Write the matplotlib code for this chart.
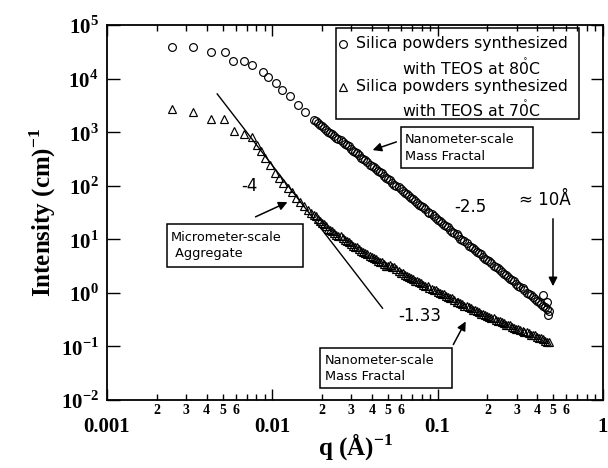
import matplotlib
matplotlib.use('Agg')
import matplotlib.pyplot as plt
from matplotlib.patches import Rectangle
from matplotlib.ticker import FixedLocator, FixedFormatter, NullFormatter

plt.rcParams['mathtext.fontset'] = 'custom'
plt.rcParams['mathtext.rm'] = 'Liberation Serif:bold'
plt.rcParams['mathtext.bf'] = 'Liberation Serif:bold'
plt.rcParams['mathtext.sf'] = 'DejaVu Sans'

# SAXS data
q_80_low = [0.00247, 0.00331, 0.00425, 0.00517, 0.00578, 0.00674, 0.00754, 0.00879,
            0.00942, 0.0105, 0.0115, 0.0128, 0.0143, 0.0158]
I_80_low = [3.88e4, 3.88e4, 3.13e4, 3.13e4, 2.13e4, 2.13e4, 1.79e4, 1.33e4,
            1.07e4, 8260, 6120, 4730, 3210, 2380]

q_70_low = [0.00247, 0.00331, 0.00425, 0.00510, 0.00586, 0.00674, 0.00754, 0.00807,
            0.00855, 0.00903, 0.0097, 0.0104, 0.0110, 0.0116, 0.0124, 0.0132,
            0.0140, 0.0147, 0.0155, 0.0164, 0.0171]
I_70_low = [2700, 2380, 1760, 1760, 1050, 920, 810, 575,
            440, 330, 240, 173, 140, 112, 92, 76,
            60, 50, 42, 35, 31]

q_dense = [0.0178, 0.0188, 0.0200, 0.0211, 0.0224, 0.0237, 0.0251, 0.0266, 0.0282, 0.0299,
           0.0316, 0.0335, 0.0355, 0.0376, 0.0398, 0.0422, 0.0447, 0.0473, 0.0501, 0.0531,
           0.0562, 0.0596, 0.0631, 0.0668, 0.0708, 0.0750, 0.0794, 0.0841, 0.0891, 0.0944,
           0.100, 0.106, 0.112, 0.119, 0.126, 0.133, 0.141, 0.150, 0.158, 0.168,
           0.178, 0.188, 0.200, 0.211, 0.224, 0.237, 0.251, 0.266, 0.282, 0.298,
           0.316, 0.335, 0.355, 0.376, 0.398, 0.422, 0.447, 0.473]
I_80_dense = [1700, 1480, 1290, 1100, 955, 850, 760, 650, 570, 490,
              425, 370, 318, 272, 238, 207, 178, 155, 133, 114,
              99.5, 86, 74.5, 64.8, 55.7, 48.0, 41.7, 36.3, 31.2, 27.0,
              23.3, 20.3, 17.5, 15.0, 13.1, 11.4, 9.8, 8.4, 7.3, 6.3,
              5.5, 4.7, 4.1, 3.55, 3.06, 2.64, 2.29, 1.99, 1.71, 1.48,
              1.28, 1.11, 0.96, 0.83, 0.72, 0.62, 0.54, 0.465]
I_70_dense = [28.4, 24.2, 20.5, 17.4, 14.8, 13.1, 11.7, 10.4, 9.25, 8.22,
              7.31, 6.49, 5.82, 5.24, 4.70, 4.23, 3.80, 3.45, 3.14, 3.00,
              2.82, 2.37, 2.16, 1.97, 1.79, 1.64, 1.50, 1.37, 1.25, 1.15,
              1.05, 0.957, 0.877, 0.802, 0.733, 0.670, 0.613, 0.561, 0.513, 0.469,
              0.430, 0.397, 0.368, 0.340, 0.315, 0.292, 0.270, 0.250, 0.232, 0.216,
              0.201, 0.187, 0.175, 0.163, 0.151, 0.141, 0.129, 0.120]

# second, interleaved set of points in the dense part
q_dense_b = [0.0183, 0.0194, 0.0205, 0.0218, 0.0231, 0.0244, 0.0259, 0.0274, 0.0290, 0.0308,
             0.0326, 0.0345, 0.0366, 0.0387, 0.0410, 0.0435, 0.0460, 0.0488, 0.0517, 0.0547,
             0.0580, 0.0614, 0.0650, 0.0689, 0.0730, 0.0773, 0.0819, 0.0868, 0.0919, 0.0972,
             0.103, 0.109, 0.116, 0.122, 0.130, 0.137, 0.145, 0.154, 0.163, 0.173,
             0.183, 0.194, 0.205, 0.218, 0.231, 0.244, 0.259, 0.274, 0.290, 0.308,
             0.326, 0.345, 0.366, 0.387, 0.410, 0.435, 0.460]
I_80_dense_b = [1620, 1350, 1220, 1000, 920, 785, 720, 595, 540, 446,
                405, 335, 300, 248, 227, 187, 170, 140, 126, 104,
                94.5, 78, 71, 58.8, 52.8, 43.7, 39.8, 32.9, 29.7, 24.5,
                22.2, 18.4, 16.6, 13.7, 12.5, 10.3, 9.3, 7.65, 6.95, 5.75,
                5.2, 4.3, 3.9, 3.22, 2.91, 2.40, 2.18, 1.80, 1.63, 1.35,
                1.22, 1.01, 0.91, 0.76, 0.685, 0.565, 0.51]
I_70_dense_b = [26.8, 21.8, 19.3, 15.7, 14.2, 12.1, 11.3, 9.6, 8.9, 7.6,
                7.05, 6.0, 5.65, 4.85, 4.56, 3.92, 3.70, 3.22, 3.25, 3.05,
                2.55, 2.31, 2.02, 1.92, 1.68, 1.60, 1.40, 1.34, 1.17, 1.12,
                0.98, 0.935, 0.82, 0.785, 0.685, 0.655, 0.573, 0.548, 0.48, 0.459,
                0.405, 0.39, 0.347, 0.334, 0.297, 0.287, 0.255, 0.246, 0.220, 0.212,
                0.190, 0.185, 0.166, 0.160, 0.143, 0.137, 0.122]

q_80_end = [0.434, 0.459, 0.466]
I_80_end = [0.91, 0.68, 0.39]

# slope -4 guide line
line_q = [0.00464, 0.0464]
line_I = [5170, 0.517]

x_major = [0.001, 0.01, 0.1, 1]
x_major_labels = ['0.001', '0.01', '0.1', '1']
y_major = [1e-2, 1e-1, 1, 10, 100, 1e3, 1e4, 1e5]
y_labels = [r'$10^{-2}$', r'$10^{-1}$', r'$10^{0}$', r'$10^{1}$', r'$10^{2}$',
            r'$10^{3}$', r'$10^{4}$', r'$10^{5}$']

fig = plt.figure(figsize=(6.08, 4.68), dpi=100)
ax = fig.add_axes([107 / 608, 68 / 468, 496 / 608, 375 / 468])
ax.set_xscale('log')
ax.set_yscale('log')
ax.set_xlim(0.001, 1)
ax.set_ylim(1e-2, 1e5)

circ = dict(marker='o', ms=5.6, mfc='none', mec='black', mew=0.85, ls='none')
tri = dict(marker='^', ms=5.6, mfc='none', mec='black', mew=0.85, ls='none')
ax.plot(q_80_low, I_80_low, **circ)
ax.plot(q_dense, I_80_dense, **circ)
ax.plot(q_dense_b, I_80_dense_b, **circ)
ax.plot(q_80_end, I_80_end, **circ)
ax.plot(q_70_low, I_70_low, **tri)
ax.plot(q_dense, I_70_dense, **tri)
ax.plot(q_dense_b, I_70_dense_b, **tri)
ax.plot(line_q, line_I, color='black', lw=1.0)

# ticks
minor = [m * 10.0 ** e for e in (-3, -2, -1) for m in range(2, 10)]
minor_lab = [str(m) if m <= 6 else '' for e in (-3, -2, -1) for m in range(2, 10)]
ax.xaxis.set_major_locator(FixedLocator(x_major))
ax.xaxis.set_major_formatter(FixedFormatter(x_major_labels))
ax.xaxis.set_minor_locator(FixedLocator(minor))
ax.xaxis.set_minor_formatter(FixedFormatter(minor_lab))
ax.yaxis.set_major_locator(FixedLocator(y_major))
ax.yaxis.set_major_formatter(FixedFormatter(y_labels))
ax.yaxis.set_minor_locator(FixedLocator([]))
ax.yaxis.set_minor_formatter(NullFormatter())

ax.tick_params(which='both', direction='in', top=True, right=True, width=1.0)
ax.tick_params(axis='x', which='major', length=8, pad=12)
ax.tick_params(axis='x', which='minor', length=4, pad=3)
ax.tick_params(axis='y', which='major', length=9, pad=6)
for lab in ax.get_xticklabels():
    lab.set_fontfamily('Liberation Serif')
    lab.set_fontweight('bold')
    lab.set_fontsize(15)
for lab in ax.get_xticklabels(minor=True):
    lab.set_fontfamily('Liberation Serif')
    lab.set_fontweight('bold')
    lab.set_fontsize(10)
for lab in ax.get_yticklabels():
    lab.set_fontsize(15)
for s in ax.spines.values():
    s.set_linewidth(1.3)

ax.set_xlabel(r'q (Å)$^{-1}$', fontfamily='Liberation Serif', fontweight='bold',
              fontsize=18, labelpad=-4)
ax.set_ylabel(r'Intensity (cm)$^{-1}$', fontfamily='Liberation Serif',
              fontweight='bold', fontsize=18, labelpad=2)


def px(x, y):
    return ((x - 107) / 496, (400 - y) / 375)


tr = ax.transAxes
sans = 'DejaVu Sans'

# legend box
lx, ly = px(336, 119)
ax.add_patch(Rectangle((lx, ly), 243 / 496, 91 / 375, transform=tr, fill=False,
                       lw=1.1, ec='black'))
ax.plot(*px(343, 44), transform=tr, **circ)
ax.plot(*px(343, 87), transform=tr, **tri)
ax.text(*px(356, 44), 'Silica powders synthesized', transform=tr, fontsize=11.3,
        family=sans, va='center', ha='left')
ax.text(*px(471, 68), r'with TEOS at 8$\mathsf{\mathring{0}}$C', transform=tr,
        fontsize=11.3, family=sans, va='center', ha='center')
ax.text(*px(356, 87), 'Silica powders synthesized', transform=tr, fontsize=11.3,
        family=sans, va='center', ha='left')
ax.text(*px(471, 110), r'with TEOS at 7$\mathsf{\mathring{0}}$C', transform=tr,
        fontsize=11.3, family=sans, va='center', ha='center')


# annotation boxes
def box(x0, y0, x1, y1, lines, tx, ty, dy=16):
    bx, by = px(x0, y1)
    ax.add_patch(Rectangle((bx, by), (x1 - x0) / 496, (y1 - y0) / 375,
                           transform=tr, fill=False, lw=1.1, ec='black'))
    for i, t in enumerate(lines):
        ax.text(*px(tx, ty + i * dy), t, transform=tr, fontsize=9.3, family=sans,
                va='center', ha='left')


box(401, 127, 533, 168, ['Nanometer-scale', 'Mass Fractal'], 405, 140)
box(320, 348, 452, 388, ['Nanometer-scale', 'Mass Fractal'], 325, 360)
box(167, 224, 303, 267, ['Micrometer-scale', ' Aggregate'], 171, 238)

arr = dict(arrowstyle='-|>', color='black', lw=1.1, mutation_scale=13)
ax.annotate('', xy=px(370, 151), xytext=px(399, 141), xycoords=tr, textcoords=tr,
            arrowprops=arr)
ax.annotate('', xy=px(467, 319), xytext=px(452, 347), xycoords=tr, textcoords=tr,
            arrowprops=arr)
ax.annotate('', xy=px(290, 201), xytext=px(253, 218), xycoords=tr, textcoords=tr,
            arrowprops=arr)
ax.annotate('', xy=px(553, 289), xytext=px(553, 216), xycoords=tr, textcoords=tr,
            arrowprops=arr)

ax.text(*px(249, 186), '-4', transform=tr, fontsize=12, family=sans,
        ha='center', va='center')
ax.text(*px(470, 207), '-2.5', transform=tr, fontsize=12, family=sans,
        ha='center', va='center')
ax.text(*px(420, 316), '-1.33', transform=tr, fontsize=12, family=sans,
        ha='center', va='center')
ax.text(*px(545, 200), '≈ 10Å', transform=tr, fontsize=12, family=sans,
        ha='center', va='center')

fig.savefig('out.png', dpi=100)
